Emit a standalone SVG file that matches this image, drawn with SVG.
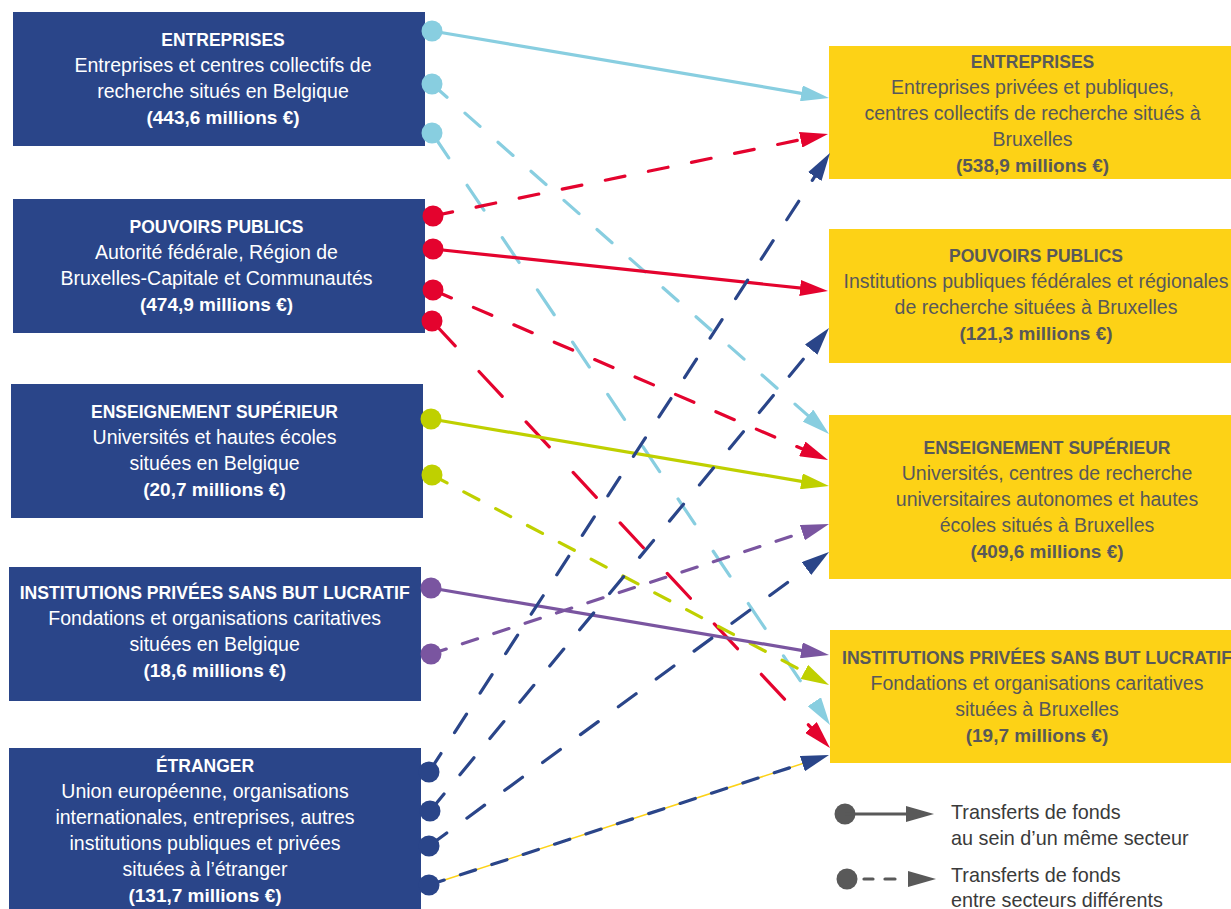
<svg xmlns="http://www.w3.org/2000/svg" width="1231" height="909" viewBox="0 0 1231 909">
<style>
.src{fill:#2A4589}
.dst{fill:#FDD216}
text{font-family:"Liberation Sans",Arial,sans-serif;text-anchor:middle}
.st text{fill:#FFFFFF}
.dt text{fill:#58585A}
.t{font-weight:bold;font-size:17.5px}
.r{font-size:19.5px}
.b{font-weight:bold;font-size:19px}
.ln{fill:none;stroke-width:3.2}
.dash{stroke-linecap:round;stroke-dasharray:20 24}
.lb{stroke:#88CEE0}
.rd{stroke:#E4032E}
.yg{stroke:#BFD000}
.pu{stroke:#7A55A0}
.db{stroke:#2A4589}
.leg{font-size:19.8px;fill:#3A3A3A;text-anchor:start}
</style>
<defs>
<marker id="mLB" markerUnits="userSpaceOnUse" markerWidth="28" markerHeight="16" refX="6" refY="8" orient="auto"><path d="M0,0 L28,8 L0,16 z" fill="#88CEE0"/></marker>
<marker id="mRD" markerUnits="userSpaceOnUse" markerWidth="28" markerHeight="16" refX="6" refY="8" orient="auto"><path d="M0,0 L28,8 L0,16 z" fill="#E4032E"/></marker>
<marker id="mYG" markerUnits="userSpaceOnUse" markerWidth="28" markerHeight="16" refX="6" refY="8" orient="auto"><path d="M0,0 L28,8 L0,16 z" fill="#BFD000"/></marker>
<marker id="mPU" markerUnits="userSpaceOnUse" markerWidth="28" markerHeight="16" refX="6" refY="8" orient="auto"><path d="M0,0 L28,8 L0,16 z" fill="#7A55A0"/></marker>
<marker id="mDB" markerUnits="userSpaceOnUse" markerWidth="28" markerHeight="16" refX="6" refY="8" orient="auto"><path d="M0,0 L28,8 L0,16 z" fill="#2A4589"/></marker>
</defs>
<rect width="1231" height="909" fill="#FFFFFF"/>

<g id="src-entreprises" class="st">
<rect class="src" x="13" y="12" width="412" height="134"/>
<text x="223" y="46" class="t">ENTREPRISES</text>
<text x="223" y="72" class="r">Entreprises et centres collectifs de</text>
<text x="223" y="98" class="r">recherche situés en Belgique</text>
<text x="223" y="124" class="b">(443,6 millions €)</text>
</g>
<g id="src-pouvoirs" class="st">
<rect class="src" x="13" y="199" width="412" height="134"/>
<text x="216.5" y="233" class="t">POUVOIRS PUBLICS</text>
<text x="216.5" y="259" class="r">Autorité fédérale, Région de</text>
<text x="216.5" y="285" class="r">Bruxelles-Capitale et Communautés</text>
<text x="216.5" y="311" class="b">(474,9 millions €)</text>
</g>
<g id="src-enseignement" class="st">
<rect class="src" x="11" y="384" width="412" height="134"/>
<text x="214.5" y="418" class="t">ENSEIGNEMENT SUPÉRIEUR</text>
<text x="214.5" y="444" class="r">Universités et hautes écoles</text>
<text x="214.5" y="470" class="r">situées en Belgique</text>
<text x="214.5" y="496" class="b">(20,7 millions €)</text>
</g>
<g id="src-institutions" class="st">
<rect class="src" x="9" y="567" width="412" height="134"/>
<text x="214.7" y="599" class="t" textLength="390" lengthAdjust="spacingAndGlyphs">INSTITUTIONS PRIVÉES SANS BUT LUCRATIF</text>
<text x="214.7" y="625" class="r">Fondations et organisations caritatives</text>
<text x="214.7" y="651" class="r">situées en Belgique</text>
<text x="214.7" y="677" class="b">(18,6 millions €)</text>
</g>
<g id="src-etranger" class="st">
<rect class="src" x="9" y="748" width="412" height="161"/>
<text x="205" y="772" class="t">ÉTRANGER</text>
<text x="205" y="798" class="r">Union européenne, organisations</text>
<text x="205" y="824" class="r">internationales, entreprises, autres</text>
<text x="205" y="850" class="r">institutions publiques et privées</text>
<text x="205" y="876" class="r">situées à l’étranger</text>
<text x="205" y="902" class="b">(131,7 millions €)</text>
</g>

<g id="dst-entreprises" class="dt">
<rect class="dst" x="829" y="46" width="402" height="133"/>
<text x="1032.5" y="68" class="t">ENTREPRISES</text>
<text x="1032.5" y="94" class="r">Entreprises privées et publiques,</text>
<text x="1032.5" y="120" class="r">centres collectifs de recherche situés à</text>
<text x="1032.5" y="146" class="r">Bruxelles</text>
<text x="1032.5" y="172" class="b">(538,9 millions €)</text>
</g>
<g id="dst-pouvoirs" class="dt">
<rect class="dst" x="829" y="229" width="402" height="134"/>
<text x="1036" y="262" class="t">POUVOIRS PUBLICS</text>
<text x="1036" y="288" class="r">Institutions publiques fédérales et régionales</text>
<text x="1036" y="314" class="r">de recherche situées à Bruxelles</text>
<text x="1036" y="340" class="b">(121,3 millions €)</text>
</g>
<g id="dst-enseignement" class="dt">
<rect class="dst" x="829" y="415" width="402" height="164"/>
<text x="1047" y="454" class="t">ENSEIGNEMENT SUPÉRIEUR</text>
<text x="1047" y="480" class="r">Universités, centres de recherche</text>
<text x="1047" y="506" class="r">universitaires autonomes et hautes</text>
<text x="1047" y="532" class="r">écoles situés à Bruxelles</text>
<text x="1047" y="558" class="b">(409,6 millions €)</text>
</g>
<g id="dst-institutions" class="dt">
<rect class="dst" x="830" y="630" width="401" height="133"/>
<text x="842" y="664" class="t" style="text-anchor:start" textLength="390" lengthAdjust="spacingAndGlyphs">INSTITUTIONS PRIVÉES SANS BUT LUCRATIF</text>
<text x="1037" y="690" class="r">Fondations et organisations caritatives</text>
<text x="1037" y="716" class="r">situées à Bruxelles</text>
<text x="1037" y="742" class="b">(19,7 millions €)</text>
</g>

<g id="connectors">
<line class="ln lb" x1="432" y1="31" x2="807.3" y2="94.3" marker-end="url(#mLB)"/>
<line class="ln lb dash" x1="432" y1="84" x2="812.5" y2="419.5" marker-end="url(#mLB)"/>
<line class="ln lb dash" style="stroke-dasharray:30 33" x1="432" y1="133" x2="817.7" y2="706.7" marker-end="url(#mLB)"/>
<line class="ln rd dash" x1="433" y1="216" x2="806.5" y2="138.5" marker-end="url(#mRD)"/>
<line class="ln rd" x1="433" y1="249" x2="806.1" y2="288.7" marker-end="url(#mRD)"/>
<line class="ln rd dash" x1="433" y1="290" x2="807.8" y2="451.3" marker-end="url(#mRD)"/>
<line class="ln rd dash" style="stroke-dasharray:34 35" x1="432" y1="321" x2="815" y2="731.9" marker-end="url(#mRD)"/>
<line class="ln yg" x1="431" y1="419" x2="807.3" y2="482.3" marker-end="url(#mYG)"/>
<line class="ln yg dash" style="stroke-dasharray:17 19" x1="432" y1="475" x2="809.6" y2="674.7" marker-end="url(#mYG)"/>
<line class="ln pu" x1="431" y1="588" x2="807.3" y2="651.3" marker-end="url(#mPU)"/>
<line class="ln pu dash" style="stroke-dasharray:16 17" x1="431" y1="654" x2="808.1" y2="530.8" marker-end="url(#mPU)"/>
<line class="ln db dash" style="stroke-dasharray:22 25" x1="429" y1="772" x2="818" y2="171.5" marker-end="url(#mDB)"/>
<line class="ln db dash" style="stroke-dasharray:22 25" x1="430" y1="811" x2="815" y2="345" marker-end="url(#mDB)"/>
<line class="ln db dash" style="stroke-dasharray:22 25" x1="429" y1="846" x2="811.3" y2="565" marker-end="url(#mDB)"/>
<line x1="429" y1="885" x2="808.1" y2="761.8" stroke="#FDD216" stroke-width="1.5"/>
<line class="ln db dash" style="stroke-dasharray:16 17" x1="429" y1="885" x2="808.1" y2="761.8" marker-end="url(#mDB)"/>
</g>

<g id="dots">
<circle cx="432" cy="31" r="10.5" fill="#88CEE0"/>
<circle cx="432" cy="84" r="10.5" fill="#88CEE0"/>
<circle cx="432" cy="133" r="10.5" fill="#88CEE0"/>
<circle cx="433" cy="216" r="10.5" fill="#E4032E"/>
<circle cx="433" cy="249" r="10.5" fill="#E4032E"/>
<circle cx="433" cy="290" r="10.5" fill="#E4032E"/>
<circle cx="432" cy="321" r="10.5" fill="#E4032E"/>
<circle cx="431" cy="419" r="10.5" fill="#BFD000"/>
<circle cx="432" cy="475" r="10.5" fill="#BFD000"/>
<circle cx="431" cy="588" r="10.5" fill="#7A55A0"/>
<circle cx="431" cy="654" r="10.5" fill="#7A55A0"/>
<circle cx="429" cy="772" r="10.5" fill="#2A4589"/>
<circle cx="430" cy="811" r="10.5" fill="#2A4589"/>
<circle cx="429" cy="846" r="10.5" fill="#2A4589"/>
<circle cx="429" cy="885" r="10.5" fill="#2A4589"/>
</g>

<g id="legend">
<circle cx="845" cy="814" r="10.5" fill="#595959"/>
<line x1="845" y1="814" x2="910" y2="814" stroke="#595959" stroke-width="3"/>
<polygon points="906,806 934,814 906,822" fill="#595959"/>
<text x="951" y="819" class="leg">Transferts de fonds</text>
<text x="951" y="845" class="leg">au sein d’un même secteur</text>
<circle cx="847" cy="879" r="10.5" fill="#595959"/>
<line x1="864" y1="879" x2="873" y2="879" stroke="#595959" stroke-width="3.2" stroke-linecap="round"/>
<line x1="885" y1="879" x2="895" y2="879" stroke="#595959" stroke-width="3.2" stroke-linecap="round"/>
<polygon points="908,871 936,879 908,887" fill="#595959"/>
<text x="951" y="882" class="leg">Transferts de fonds</text>
<text x="951" y="907" class="leg">entre secteurs différents</text>
</g>
</svg>
